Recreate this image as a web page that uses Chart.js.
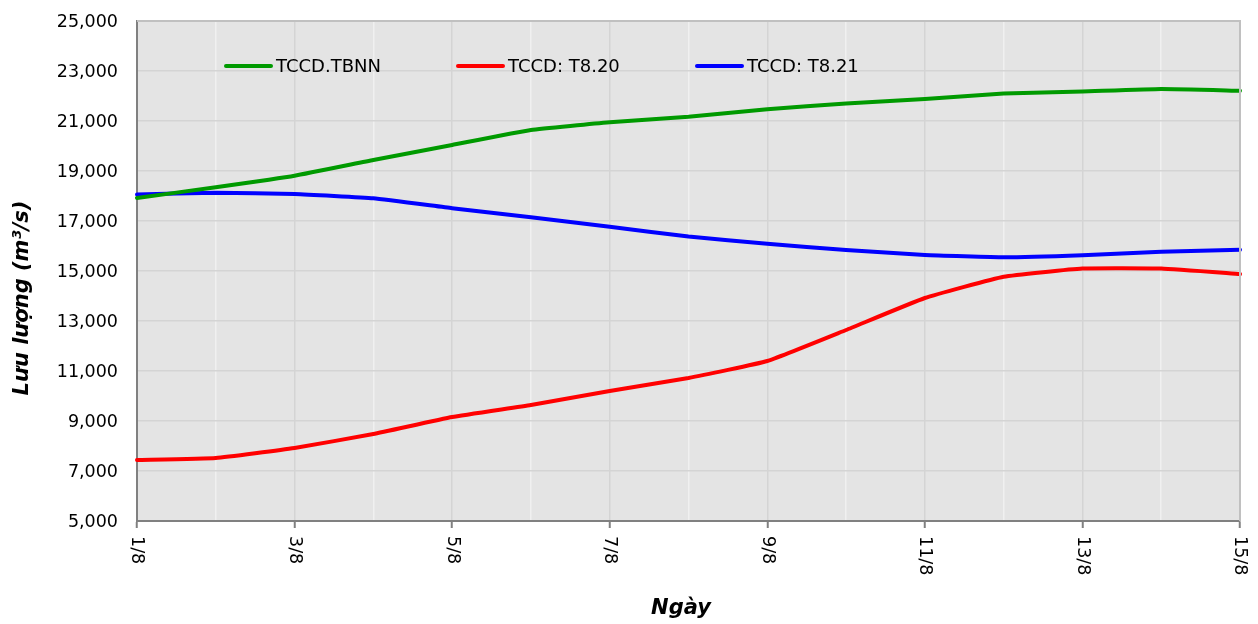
<!DOCTYPE html>
<html>
<head>
<meta charset="utf-8">
<script src="https://cdn.jsdelivr.net/npm/chart.js@4"></script>
<style>
  html, body { margin: 0; padding: 0; background: #fff; }
  #wrap { width: 1258px; height: 624px; position: relative; }
</style>
</head>
<body>
<div id="wrap"><canvas id="c" width="1258" height="624"></canvas></div>
<script>
const days = ['1/8','2/8','3/8','4/8','5/8','6/8','7/8','8/8','9/8','10/8','11/8','12/8','13/8','14/8','15/8'];
const tbnn = [17920, 18350, 18810, 19440, 20040, 20640, 20950, 21170, 21470, 21700, 21880, 22100, 22180, 22280, 22210];
const t820 = [7440, 7520, 7920, 8480, 9160, 9640, 10200, 10720, 11400, 12640, 13920, 14770, 15100, 15100, 14880];
const t821 = [18060, 18130, 18080, 17910, 17510, 17150, 16770, 16380, 16090, 15840, 15640, 15550, 15630, 15770, 15850];
const seriesNames = ['TCCD.TBNN', 'TCCD: T8.20', 'TCCD: T8.21'];
const seriesColors = ['#009a00', '#ff0000', '#0000ff'];
const yTicks = [5000, 7000, 9000, 11000, 13000, 15000, 17000, 19000, 21000, 23000, 25000];
const yTitle = 'Lưu lượng (m³/s)';
const xTitle = 'Ngày';

const FONT = '"DejaVu Sans", Verdana, sans-serif';

const decor = {
  id: 'decor',
  beforeDraw(chart) {
    const { ctx, chartArea: a } = chart;
    ctx.save();
    ctx.fillStyle = '#e4e4e4';
    ctx.fillRect(a.left, a.top, a.right - a.left, a.bottom - a.top);
    ctx.restore();
  },
  afterDatasetsDraw(chart) {
    const { ctx, chartArea: a, scales } = chart;
    ctx.save();
    // top / right frame
    ctx.strokeStyle = '#c0c0c0';
    ctx.lineWidth = 2;
    ctx.beginPath();
    ctx.moveTo(a.left, a.top);
    ctx.lineTo(a.right, a.top);
    ctx.lineTo(a.right, a.bottom);
    ctx.stroke();
    // y tick labels
    const ys = scales.y;
    ctx.fillStyle = '#000';
    ctx.font = '17.5px ' + FONT;
    ctx.textAlign = 'right';
    ctx.textBaseline = 'middle';
    yTicks.forEach(v => {
      ctx.fillText(v.toLocaleString('en-US'), a.left - 19, ys.getPixelForValue(v) + 1);
    });
    // x labels rotated +90 (reading downward)
    const xs = scales.x;
    ctx.textAlign = 'left';
    days.forEach((d, i) => {
      if (i % 2 !== 0) return;
      const px = xs.getPixelForValue(i);
      ctx.save();
      ctx.translate(px, a.bottom + 15);
      ctx.rotate(Math.PI / 2);
      ctx.fillText(d, 0, 0);
      ctx.restore();
    });
    // legend
    ctx.font = '18px ' + FONT;
    const legX = [226, 458, 697];
    const legY = 66;
    seriesNames.forEach((n, i) => {
      ctx.strokeStyle = seriesColors[i];
      ctx.lineWidth = 4;
      ctx.lineCap = 'round';
      ctx.beginPath();
      ctx.moveTo(legX[i], legY);
      ctx.lineTo(legX[i] + 45, legY);
      ctx.stroke();
      ctx.fillStyle = '#000';
      ctx.textAlign = 'left';
      ctx.textBaseline = 'middle';
      ctx.fillText(n, legX[i] + 50, legY + 1);
    });
    // axis titles
    ctx.font = 'italic bold 21px ' + FONT;
    ctx.textAlign = 'center';
    ctx.textBaseline = 'middle';
    ctx.save();
    ctx.translate(23, 298);
    ctx.rotate(-Math.PI / 2);
    ctx.fillText(yTitle, 0, 0);
    ctx.restore();
    ctx.font = 'italic bold 21px ' + FONT;
    ctx.fillText(xTitle, 681, 609);
    ctx.restore();
  }
};

new Chart(document.getElementById('c'), {
  type: 'line',
  data: {
    labels: days,
    datasets: [
      { label: seriesNames[0], data: tbnn, borderColor: seriesColors[0], backgroundColor: seriesColors[0] },
      { label: seriesNames[1], data: t820, borderColor: seriesColors[1], backgroundColor: seriesColors[1] },
      { label: seriesNames[2], data: t821, borderColor: seriesColors[2], backgroundColor: seriesColors[2] }
    ]
  },
  options: {
    responsive: false,
    animation: false,
    devicePixelRatio: 1,
    layout: { padding: { top: 21, right: 18, left: 0, bottom: 0 } },
    elements: {
      line: { borderWidth: 4, tension: 0.12, borderCapStyle: 'round', borderJoinStyle: 'round' },
      point: { radius: 0, hoverRadius: 0 }
    },
    plugins: { legend: { display: false }, tooltip: { enabled: false } },
    scales: {
      x: {
        offset: false,
        afterFit(s) { s.height = 103; },
        ticks: { display: false },
        grid: {
          color: (c) => (c.index % 2 === 0 ? '#d4d4d4' : '#f0f0f0'),
          lineWidth: 1.5,
          drawTicks: true,
          tickLength: 7,
          tickColor: (c) => (c.index % 2 === 0 ? '#808080' : 'rgba(0,0,0,0)'),
          tickWidth: 2
        },
        border: { display: true, color: '#808080', width: 2 }
      },
      y: {
        min: 5000,
        max: 25000,
        afterFit(s) { s.width = 137; },
        afterBuildTicks(s) { s.ticks = yTicks.map(v => ({ value: v })); },
        ticks: { display: false },
        grid: { color: '#d4d4d4', lineWidth: 1.5, drawTicks: false },
        border: { display: true, color: '#808080', width: 2 }
      }
    }
  },
  plugins: [decor]
});
</script>
</body>
</html>
